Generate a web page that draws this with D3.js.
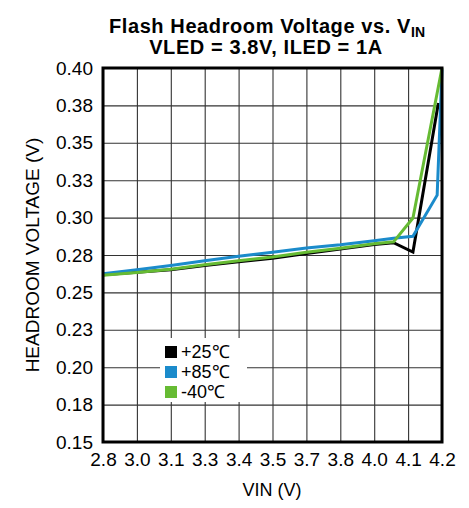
<!DOCTYPE html>
<html><head><meta charset="utf-8">
<script src="https://cdn.jsdelivr.net/npm/d3@7"></script>
<style>body{margin:0;background:#fff}svg{display:block}text{font-family:"Liberation Sans",Arial,sans-serif}</style>
</head><body>
<svg id="c" width="469" height="508"></svg>
<script>
// ---- data ----
const xTickValues = [2.8, 2.94, 3.08, 3.22, 3.36, 3.5, 3.64, 3.78, 3.92, 4.06, 4.2];
const xTickLabels = ["2.8","3.0","3.1","3.3","3.4","3.5","3.7","3.8","4.0","4.1","4.2"];
const yTickValues = [0.15,0.175,0.2,0.225,0.25,0.275,0.3,0.325,0.35,0.375,0.4];
const yTickLabels = ["0.15","0.18","0.20","0.23","0.25","0.28","0.30","0.33","0.35","0.38","0.40"];

const seriesNames = ["+25\u2103", "+85\u2103", "-40\u2103"];
const vin25  = [2.8, 2.94, 3.08, 3.22, 3.36, 3.5, 3.64, 3.78, 3.92, 4.0, 4.08, 4.185];
const hv25   = [0.2618, 0.2635, 0.2652, 0.268, 0.2705, 0.2728, 0.276, 0.279, 0.282, 0.2832, 0.277, 0.3766];
const vin85  = [2.8, 2.94, 3.08, 3.22, 3.36, 3.5, 3.64, 3.78, 3.92, 4.0, 4.08, 4.18, 4.2];
const hv85   = [0.2625, 0.2652, 0.268, 0.2712, 0.2742, 0.2768, 0.2797, 0.2818, 0.2845, 0.2862, 0.2875, 0.315, 0.399];
const vinM40 = [2.8, 2.94, 3.08, 3.22, 3.36, 3.5, 3.64, 3.78, 3.92, 4.0, 4.08, 4.2];
const hvM40  = [0.2615, 0.2633, 0.2655, 0.2685, 0.2712, 0.2737, 0.2768, 0.2795, 0.2825, 0.2838, 0.2997, 0.40];

const colors = ["#000000", "#1b8bcb", "#66bb33"];

// ---- layout ----
const svg = d3.select("#c");
const L = 103, R = 442, T = 68, B = 442;
const x = d3.scaleLinear().domain([2.8, 4.2]).range([L, R]);
const y = d3.scaleLinear().domain([0.15, 0.40]).range([B, T]);

const xAxis = d3.axisBottom(x).tickValues(xTickValues)
  .tickFormat((d,i) => xTickLabels[i]).tickSizeInner(-(B - T)).tickSizeOuter(0).tickPadding(11);
const yAxis = d3.axisLeft(y).tickValues(yTickValues)
  .tickFormat((d,i) => yTickLabels[i]).tickSizeInner(-(R - L)).tickSizeOuter(0).tickPadding(10);

const gx = svg.append("g").attr("transform", `translate(0,${B})`).call(xAxis);
const gy = svg.append("g").attr("transform", `translate(${L},0)`).call(yAxis);
[gx, gy].forEach(g => {
  g.select(".domain").remove();
  g.selectAll(".tick line").attr("stroke", "#333").attr("stroke-width", 1.1);
  g.selectAll(".tick text").attr("fill", "#000").style("font-size", "19px")
    .style("font-family", '"Liberation Sans", Arial, sans-serif');
});
gx.selectAll(".tick text").attr("dy", "0.71em");

// legend background (covers gridlines)
svg.append("rect").attr("x", 160).attr("y", 338).attr("width", 87).attr("height", 64).attr("fill", "#fff");

// lines
const line = d3.line().x(d => x(d[0])).y(d => y(d[1]));
const series = [d3.zip(vin25, hv25), d3.zip(vin85, hv85), d3.zip(vinM40, hvM40)];
series.forEach((s, i) => {
  svg.append("path").datum(s).attr("d", line).attr("fill", "none")
    .attr("stroke", colors[i]).attr("stroke-width", 3).attr("stroke-linejoin", "miter");
});

// frame
svg.append("rect").attr("x", L).attr("y", T).attr("width", R - L).attr("height", B - T)
  .attr("fill", "none").attr("stroke", "#000").attr("stroke-width", 3);

// legend
seriesNames.forEach((n, i) => {
  const cy = 352 + i * 20;
  svg.append("rect").attr("x", 165).attr("y", cy - 6).attr("width", 12).attr("height", 12).attr("fill", colors[i]);
  svg.append("text").attr("x", 181).attr("y", cy).attr("dy", "0.36em")
    .style("font-size", "18px").text(n);
});

// titles
const t = svg.append("text").attr("x", 267).attr("y", 32.5).attr("text-anchor", "middle")
  .style("font-size", "20px").style("font-weight", "bold").style("letter-spacing", "0.6px");
t.append("tspan").text("Flash Headroom Voltage vs. V");
t.append("tspan").attr("dy", 4).style("font-size", "14px").style("letter-spacing", "0px").text("IN");
svg.append("text").attr("x", 266).attr("y", 54).attr("text-anchor", "middle")
  .style("font-size", "20px").style("font-weight", "bold").style("letter-spacing", "0.6px")
  .text("VLED = 3.8V, ILED = 1A");

svg.append("text").attr("x", 272).attr("y", 496).attr("text-anchor", "middle")
  .style("font-size", "18px").text("VIN (V)");
svg.append("text").attr("transform", "translate(39,255) rotate(-90)").attr("text-anchor", "middle")
  .style("font-size", "19px").text("HEADROOM VOLTAGE (V)");
</script>
</body></html>
